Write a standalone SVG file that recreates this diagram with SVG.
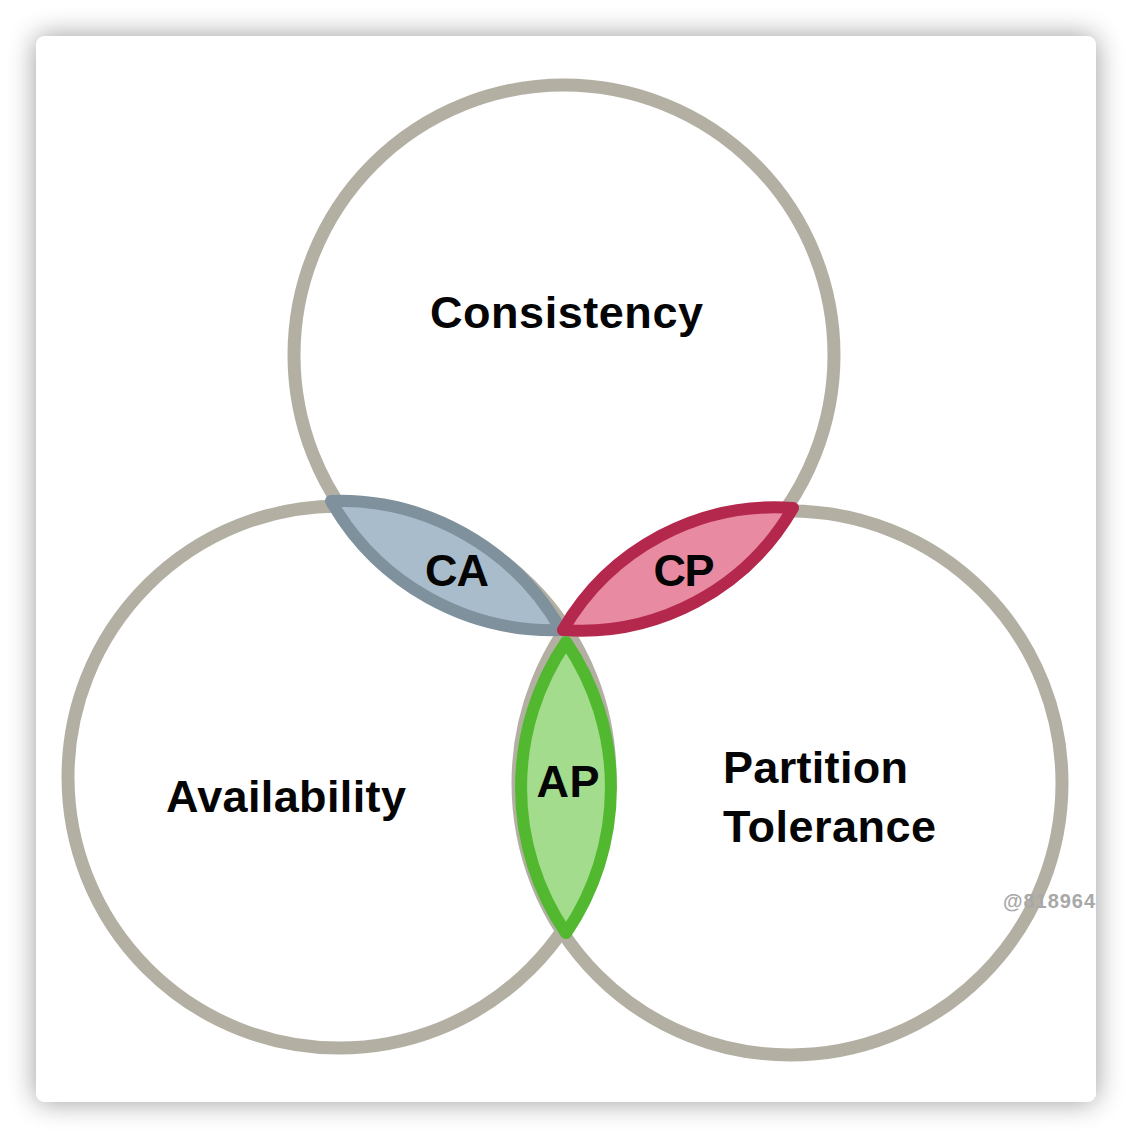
<svg xmlns="http://www.w3.org/2000/svg" width="1132" height="1138" viewBox="0 0 1132 1138">
  <defs>
    <filter id="shadow" x="-10%" y="-10%" width="120%" height="120%">
      <feGaussianBlur in="SourceAlpha" stdDeviation="14"/>
      <feComponentTransfer><feFuncA type="linear" slope="0.4"/></feComponentTransfer>
      <feMerge><feMergeNode/><feMergeNode in="SourceGraphic"/></feMerge>
    </filter>
  </defs>
  <style>
    .ring { fill: none; stroke: #b3b0a3; stroke-width: 13; }
    .lbl { font-family: "Liberation Sans", Arial, sans-serif; font-weight: bold; font-size: 45px; fill: #050505; }
    .lens { stroke-width: 12; stroke-linejoin: round; }
  </style>
  <rect x="0" y="0" width="1132" height="1138" fill="#ffffff"/>
  <rect x="36" y="36" width="1060" height="1066" rx="9" fill="#ffffff" filter="url(#shadow)"/>

  <g id="circle-consistency">
    <circle class="ring" cx="564" cy="355" r="270"/>
  </g>
  <g id="circle-availability">
    <circle class="ring" cx="339" cy="777" r="271"/>
  </g>
  <g id="circle-partition">
    <circle class="ring" cx="790" cy="783" r="272"/>
  </g>

  <g id="lens-ca">
    <path class="lens" fill="#a8bccb" stroke="#7e919c" d="M331,501 A255,255 0 0 1 561,630 A255,255 0 0 1 331,501 Z"/>
    <text class="lbl" x="457" y="586" text-anchor="middle" textLength="64">CA</text>
  </g>
  <g id="lens-cp">
    <path class="lens" fill="#e88aa1" stroke="#b5284d" d="M563,630 A245,245 0 0 1 793,508 A245,245 0 0 1 563,630 Z"/>
    <text class="lbl" x="684" y="586" text-anchor="middle" textLength="61">CP</text>
  </g>
  <g id="lens-ap">
    <path class="lens" fill="#a2dc8c" stroke="#52b830" d="M566,642 A258,258 0 0 1 566,933 A258,258 0 0 1 566,642 Z"/>
    <text class="lbl" x="568" y="797" text-anchor="middle" textLength="63">AP</text>
  </g>

  <g id="label-consistency">
    <text class="lbl" x="430" y="328" textLength="273">Consistency</text>
  </g>
  <g id="label-availability">
    <text class="lbl" x="166" y="812" textLength="240">Availability</text>
  </g>
  <g id="label-partition">
    <text class="lbl" x="723" y="783" textLength="185">Partition</text>
    <text class="lbl" x="723" y="842" textLength="213">Tolerance</text>
  </g>
  <text x="1003" y="908" font-family="Liberation Sans, Arial, sans-serif" font-weight="bold" font-size="20" fill="#a8a8a8" textLength="92">@818964</text>
</svg>
